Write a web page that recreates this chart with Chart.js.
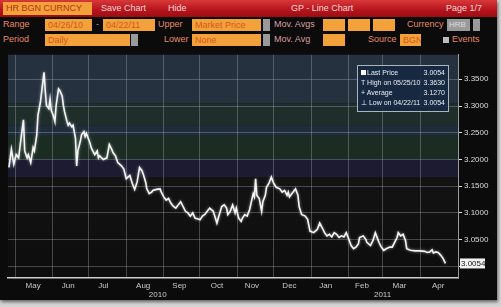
<!DOCTYPE html>
<html>
<head>
<meta charset="utf-8">
<script src="https://cdn.jsdelivr.net/npm/chart.js@4.4.0/dist/chart.umd.min.js"></script>
<style>
  html, body { margin: 0; padding: 0; }
  body { width: 501px; height: 307px; background: #d4d4d4; overflow: hidden; position: relative; font-family: 'Liberation Sans', Arial, sans-serif; }
  #panel { position: absolute; left: 0; top: 0; width: 497px; height: 300px; background: #0b0b0b; box-shadow: 1px 2px 3px #666; }
  .bar { position: absolute; left: 0; top: 0; width: 497px; height: 17px; background: linear-gradient(#d8383a, #b5141b 60%, #9c0c12); }
  .t { position: absolute; font-size: 9px; line-height: 13px; white-space: nowrap; }
  .w { color: #f6d8d8; }
  .lbl { color: #e58a68; }
  .box { position: absolute; height: 12px; background: #f3a13b; color: #d4581a; font-size: 9px; line-height: 12px; padding-left: 3px; box-sizing: border-box; white-space: nowrap; overflow: hidden; }
  .gray { position: absolute; height: 12px; background: #9a9a9a; color: #dcdcdc; font-size: 8px; line-height: 12px; padding-left: 2px; box-sizing: border-box; }
  #chartBox { position: absolute; left: 0; top: 48px; width: 497px; height: 252px; }
  #legend { position: absolute; left: 357px; top: 65px; width: 92px; height: 47px; box-sizing: border-box; border: 1px solid #aab4bf; background: rgba(22, 40, 66, 0.88); color: #e8ecf2; font-size: 7px; }
  #legend div { position: absolute; left: 3px; right: 3px; height: 10px; line-height: 10px; white-space: nowrap; }
  #legend span { position: absolute; right: 0; }
</style>
</head>
<body>
<div id="panel">
  <div class="bar"></div>
  <div class="box" style="left:3px;top:2px;width:89px;height:13px;line-height:13px;color:#b8301a;">HR BGN CURNCY</div>
  <div class="t w" style="left:101px;top:2px;">Save Chart</div>
  <div class="t w" style="left:168px;top:2px;">Hide</div>
  <div class="t w" style="left:291px;top:2px;">GP - Line Chart</div>
  <div class="t w" style="left:446px;top:2px;">Page 1/7</div>

  <div class="t lbl" style="left:3px;top:18px;">Range</div>
  <div class="box" style="left:45px;top:19px;width:47px;">04/26/10</div>
  <div class="t lbl" style="left:96px;top:18px;">-</div>
  <div class="box" style="left:103px;top:19px;width:52px;">04/22/11</div>
  <div class="t lbl" style="left:158px;top:18px;">Upper</div>
  <div class="box" style="left:192px;top:19px;width:69px;">Market Price</div>
  <div class="gray" style="left:263px;top:19px;width:7px;"></div>
  <div class="t lbl" style="left:274px;top:18px;color:#d9a0a0;">Mov. Avgs</div>
  <div class="box" style="left:323px;top:19px;width:22px;"></div>
  <div class="box" style="left:348px;top:19px;width:22px;"></div>
  <div class="box" style="left:373px;top:19px;width:22px;"></div>
  <div class="t lbl" style="left:407px;top:18px;">Currency</div>
  <div class="gray" style="left:447px;top:19px;width:23px;">HRB</div>
  <div class="gray" style="left:473px;top:19px;width:7px;"></div>

  <div class="t lbl" style="left:3px;top:33px;">Period</div>
  <div class="box" style="left:45px;top:34px;width:85px;">Daily</div>
  <div class="gray" style="left:131px;top:34px;width:7px;"></div>
  <div class="t lbl" style="left:164px;top:33px;">Lower</div>
  <div class="box" style="left:192px;top:34px;width:69px;">None</div>
  <div class="gray" style="left:263px;top:34px;width:7px;"></div>
  <div class="t lbl" style="left:274px;top:33px;color:#d9a0a0;">Mov. Avg</div>
  <div class="box" style="left:323px;top:34px;width:22px;"></div>
  <div class="t lbl" style="left:368px;top:33px;">Source</div>
  <div class="box" style="left:400px;top:34px;width:21px;">BGN</div>
  <div style="position:absolute;left:443px;top:37px;width:6px;height:6px;background:#bbb;"></div>
  <div class="t lbl" style="left:452px;top:33px;">Events</div>

  <div id="chartBox"><canvas id="gpChart"></canvas></div>

  <div id="legend">
    <div style="top:2px;"><b style="display:inline-block;width:5px;height:5px;background:#fff;margin-right:1px;"></b>Last Price<span id="lgLast"></span></div>
    <div style="top:12px;">T High on 05/25/10<span id="lgHigh"></span></div>
    <div style="top:22px;">+ Average<span id="lgAvg"></span></div>
    <div style="top:32px;">&#8869; Low on 04/22/11<span id="lgLow"></span></div>
  </div>
</div>

<script>
// days since 04/26/10 and daily price
const days = [0, 2, 4, 6, 8, 10, 12, 13, 15, 16, 18, 20, 21, 23, 24, 26, 27, 29, 30, 31,
  33, 34, 35, 37, 38, 39, 41, 42, 44, 45, 46, 48, 49, 50, 52, 53, 55, 56, 57, 59,
  60, 62, 63, 64, 66, 67, 68, 70, 71, 73, 74, 75, 78, 81, 83, 85, 86, 88, 90, 93,
  95, 97, 100, 102, 104, 106, 108, 110, 111, 113, 114, 116, 118, 119, 122, 125, 126, 128, 130, 132,
  134, 136, 138, 140, 142, 144, 146, 148, 150, 152, 154, 156, 158, 160, 162, 164, 166, 169, 172, 174,
  176, 178, 180, 181, 183, 185, 187, 188, 190, 192, 193, 195, 197, 199, 202, 203, 204, 205, 207, 209,
  210, 212, 213, 215, 217, 219, 221, 224, 226, 228, 230, 231, 232, 235, 237, 239, 240, 242, 245, 247,
  249, 252, 255, 257, 260, 261, 263, 265, 267, 269, 271, 273, 275, 277, 279, 281, 283, 285, 287, 289,
  290, 293, 295, 296, 299, 301, 303, 304, 306, 308, 310, 312, 315, 317, 319, 321, 322, 324, 326, 328,
  329, 332, 336, 340, 344, 346, 348, 350, 351, 353, 355, 357, 359, 361];
const prices = [3.185, 3.219, 3.191, 3.209, 3.203, 3.240, 3.274, 3.216, 3.203, 3.209, 3.194, 3.222, 3.216, 3.246, 3.283, 3.307, 3.326, 3.363, 3.329, 3.301,
  3.295, 3.313, 3.292, 3.280, 3.271, 3.301, 3.332, 3.329, 3.319, 3.301, 3.289, 3.271, 3.264, 3.268, 3.261, 3.264, 3.240, 3.188, 3.216, 3.234,
  3.246, 3.252, 3.243, 3.249, 3.237, 3.231, 3.222, 3.213, 3.209, 3.216, 3.203, 3.207, 3.200, 3.203, 3.228, 3.219, 3.213, 3.207, 3.194, 3.188,
  3.182, 3.164, 3.170, 3.155, 3.144, 3.158, 3.185, 3.179, 3.173, 3.158, 3.145, 3.136, 3.139, 3.142, 3.144, 3.145, 3.139, 3.130, 3.124, 3.127,
  3.118, 3.112, 3.109, 3.115, 3.121, 3.112, 3.103, 3.100, 3.094, 3.100, 3.090, 3.089, 3.087, 3.094, 3.097, 3.103, 3.109, 3.103, 3.081, 3.097,
  3.112, 3.115, 3.109, 3.097, 3.103, 3.115, 3.100, 3.109, 3.090, 3.084, 3.090, 3.097, 3.094, 3.106, 3.136, 3.130, 3.164, 3.133, 3.127, 3.103,
  3.121, 3.133, 3.148, 3.155, 3.167, 3.155, 3.148, 3.145, 3.139, 3.142, 3.133, 3.139, 3.130, 3.139, 3.145, 3.133, 3.112, 3.097, 3.094, 3.088,
  3.066, 3.063, 3.069, 3.081, 3.068, 3.063, 3.057, 3.060, 3.055, 3.063, 3.060, 3.054, 3.057, 3.055, 3.063, 3.051, 3.039, 3.033, 3.036, 3.042,
  3.054, 3.057, 3.051, 3.045, 3.039, 3.048, 3.063, 3.057, 3.045, 3.036, 3.030, 3.033, 3.036, 3.036, 3.045, 3.054, 3.063, 3.057, 3.060, 3.048,
  3.033, 3.030, 3.029, 3.029, 3.028, 3.026, 3.027, 3.031, 3.025, 3.027, 3.026, 3.021, 3.015, 3.0054];

const monthStarts = [5, 36, 66, 97, 128, 158, 189, 219, 250, 281, 309, 340];
const monthLabels = ['May', 'Jun', 'Jul', 'Aug', 'Sep', 'Oct', 'Nov', 'Dec', 'Jan', 'Feb', 'Mar', 'Apr'];
const monthLabelDays = [20, 49, 78, 111, 141, 172, 201, 232, 262, 292, 323, 355];
const yearLabels = ['2010', '2011'];
const yearLabelDays = [123, 309];
const priceTicks = [3.00, 3.05, 3.10, 3.15, 3.20, 3.25, 3.30, 3.35];

const lastPrice = 3.0054;
const highPrice = 3.3630;
const avgPrice = 3.1270;
const lowPrice = 3.0054;

document.getElementById('lgLast').textContent = lastPrice.toFixed(4);
document.getElementById('lgHigh').textContent = highPrice.toFixed(4);
document.getElementById('lgAvg').textContent = avgPrice.toFixed(4);
document.getElementById('lgLow').textContent = lowPrice.toFixed(4);

// background colour bands (by price level)
const bandTops = [3.396, 3.305, 3.264, 3.244, 3.200];
const bandBottoms = [3.305, 3.264, 3.244, 3.200, 3.167];
const bandColors = ['#25313f', '#1f2e2b', '#1f2c3a', '#1b2c23', '#1d1b31'];

const bandPlugin = {
    id: 'bands',
    beforeDraw(chart) {
        const {ctx, chartArea: a, scales: {y}} = chart;
        ctx.save();
        const g = ctx.createLinearGradient(0, a.top, 0, a.bottom);
        g.addColorStop(0, '#1a1a1a');
        g.addColorStop(1, '#0d0d0d');
        ctx.fillStyle = g;
        ctx.fillRect(a.left, a.top, a.right - a.left, a.bottom - a.top);
        bandColors.forEach((c, i) => {
            const y0 = Math.max(a.top, y.getPixelForValue(bandTops[i]));
            const y1 = y.getPixelForValue(bandBottoms[i]);
            ctx.fillStyle = c;
            ctx.fillRect(a.left, y0, a.right - a.left, y1 - y0);
        });
        ctx.restore();
    }
};

// soft glow on the price line
const glowPlugin = {
    id: 'glow',
    beforeDatasetsDraw(chart) {
        chart.ctx.save();
        chart.ctx.shadowColor = 'rgba(255,255,255,0.55)';
        chart.ctx.shadowBlur = 3;
    },
    afterDatasetsDraw(chart) {
        chart.ctx.restore();
    }
};

// last price tag on the right axis
const lastTagPlugin = {
    id: 'lastTag',
    afterDraw(chart) {
        const {ctx, chartArea: a, scales: {y}} = chart;
        const py = y.getPixelForValue(lastPrice);
        ctx.save();
        ctx.fillStyle = '#f2f2f2';
        ctx.fillRect(a.right + 2, py - 5, 25, 10);
        ctx.fillStyle = '#1a1a1a';
        ctx.font = '8px "Liberation Sans", Arial';
        ctx.textBaseline = 'middle';
        ctx.fillText(lastPrice.toFixed(4), a.right + 3, py + 0.5);
        ctx.restore();
    }
};

const tickFont = {family: "'Liberation Sans', Arial, sans-serif", size: 8};
const ctx = document.getElementById('gpChart').getContext('2d');

new Chart(ctx, {
    type: 'line',
    data: {
        datasets: [{
            label: 'Last Price',
            data: days.map((d, i) => ({x: d, y: prices[i]})),
            borderColor: '#f4f4f4',
            borderWidth: 1.6,
            pointRadius: 0,
            tension: 0
        }]
    },
    options: {
        responsive: true,
        maintainAspectRatio: false,
        animation: false,
        layout: {padding: {left: 8, top: 2, right: 0, bottom: 0}},
        plugins: {legend: {display: false}, tooltip: {enabled: false}},
        scales: {
            x: {
                type: 'linear', position: 'bottom', min: -0.8, max: 371.4,
                afterBuildTicks: axis => { axis.ticks = monthStarts.map(v => ({value: v})); },
                afterFit: axis => { axis.height = 2; },
                grid: {color: 'rgba(170,180,190,0.35)', drawTicks: false},
                border: {color: '#cfcfcf', width: 1.5},
                ticks: {display: false}
            },
            xm: {
                type: 'linear', position: 'bottom', min: -0.8, max: 371.4,
                afterBuildTicks: axis => { axis.ticks = monthLabelDays.map(v => ({value: v})); },
                afterFit: axis => { axis.height = 10; },
                grid: {display: false, drawTicks: false},
                border: {display: false},
                ticks: {color: '#c8c8c8', font: tickFont, padding: 1, autoSkip: false, maxRotation: 0,
                    callback: (v, i) => monthLabels[i]}
            },
            xy: {
                type: 'linear', position: 'bottom', min: -0.8, max: 371.4,
                afterBuildTicks: axis => { axis.ticks = yearLabelDays.map(v => ({value: v})); },
                afterFit: axis => { axis.height = 10; },
                grid: {display: false, drawTicks: false},
                border: {display: false},
                ticks: {color: '#c8c8c8', font: tickFont, padding: 0, autoSkip: false, maxRotation: 0,
                    callback: (v, i) => yearLabels[i]}
            },
            y: {
                type: 'linear', position: 'right', min: 2.9782, max: 3.3958,
                afterBuildTicks: axis => { axis.ticks = priceTicks.map(v => ({value: v})); },
                afterFit: axis => { axis.width = 39; },
                grid: {color: 'rgba(170,180,190,0.35)', tickColor: '#e0e0e0', tickLength: 4},
                border: {color: '#9a9a9a'},
                ticks: {color: '#dcdcdc', font: tickFont, padding: 2,
                    callback: v => (v === 3.0 ? '' : v.toFixed(4))}
            }
        }
    },
    plugins: [bandPlugin, glowPlugin, lastTagPlugin]
});
</script>
</body>
</html>
